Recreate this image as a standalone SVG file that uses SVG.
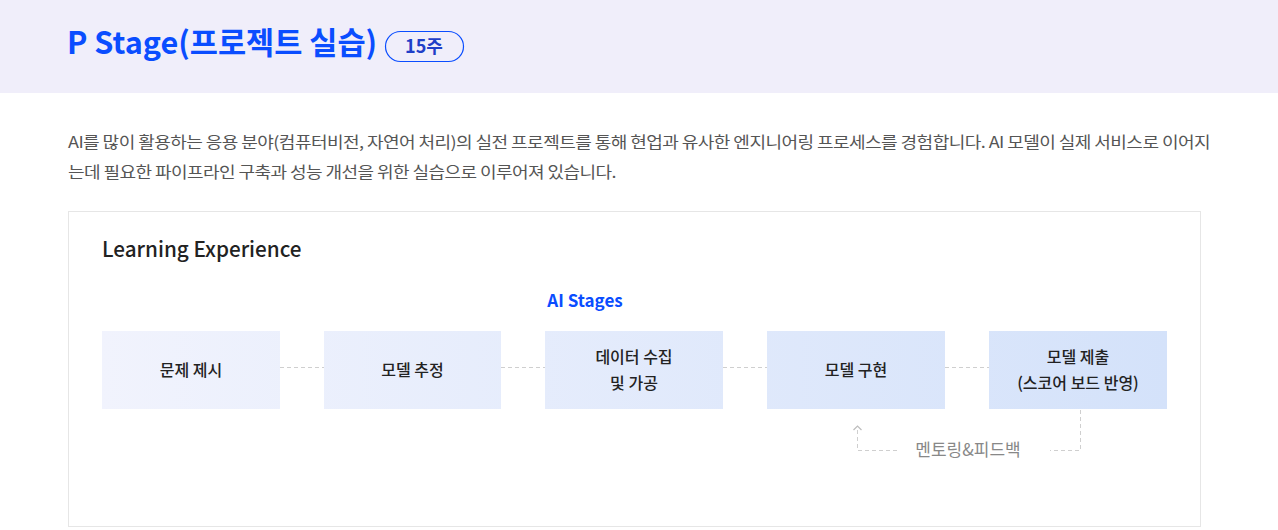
<svg xmlns="http://www.w3.org/2000/svg" width="1278" height="530" viewBox="0 0 1278 530">
<style>
text{font-family:"Noto Sans CJK KR","Noto Sans",sans-serif}
.title{font-size:30.6px;font-weight:700;fill:#0a4dff}
.badge{fill:none;stroke:#0a4dff;stroke-width:1.2}
.badgetxt{font-size:18px;font-weight:700;fill:#1f3fc8}
.para{font-size:16px;fill:#555;letter-spacing:-0.5px}
.h2{font-size:20.7px;font-weight:500;fill:#222}
.stage{font-size:17px;font-weight:700;fill:#0a4dff}
.box{fill:url(#bg)}
.lbl{font-size:16px;font-weight:500;fill:#222}
.dash{stroke:#cfcfcf;stroke-width:1;stroke-dasharray:4 3;fill:none}
.fb{font-size:17px;fill:#888}
</style>
<defs>
<linearGradient id="bg" gradientUnits="userSpaceOnUse" x1="102" y1="0" x2="1167" y2="0">
<stop offset="0" stop-color="#f1f3fd"/>
<stop offset="1" stop-color="#d4e2fa"/>
</linearGradient>
<marker id="arr" viewBox="0 0 10 10" refX="8" refY="5" markerWidth="10" markerHeight="10" markerUnits="userSpaceOnUse" orient="auto">
<path d="M4,1 L8,5 L4,9" fill="none" stroke="#bdbdbd" stroke-width="1.2"/>
</marker>
</defs>
<rect x="0" y="0" width="1278" height="530" fill="#ffffff"/>
<rect x="0" y="0" width="1278" height="93" fill="#f0eefa"/>
<text class="title" x="67" y="54">P Stage(프로젝트 실습)</text>
<rect class="badge" x="385.5" y="31.5" width="78" height="30" rx="15"/>
<text class="badgetxt" x="424" y="53" text-anchor="middle">15주</text>
<text class="para" x="68" y="148" textLength="1142" lengthAdjust="spacingAndGlyphs">AI를 많이 활용하는 응용 분야(컴퓨터비전, 자연어 처리)의 실전 프로젝트를 통해 현업과 유사한 엔지니어링 프로세스를 경험합니다. AI 모델이 실제 서비스로 이어지</text>
<text class="para" x="68" y="178" textLength="548" lengthAdjust="spacingAndGlyphs">는데 필요한 파이프라인 구축과 성능 개선을 위한 실습으로 이루어져 있습니다.</text>
<rect x="68.5" y="211.5" width="1132" height="315" fill="#fff" stroke="#e6e6e6"/>
<text class="h2" x="102" y="257">Learning Experience</text>
<text class="stage" x="585" y="307" text-anchor="middle">AI Stages</text>
<g id="connectors">
<line class="dash" x1="280" y1="367.5" x2="324" y2="367.5"/>
<line class="dash" x1="501" y1="367.5" x2="545" y2="367.5"/>
<line class="dash" x1="723" y1="367.5" x2="767" y2="367.5"/>
<line class="dash" x1="945" y1="367.5" x2="989" y2="367.5"/>
<polyline class="dash" points="1080.5,410 1080.5,450.5 1050,450.5"/>
<polyline class="dash" points="897,450.5 857.5,450.5 857.5,426" marker-end="url(#arr)"/>
<text class="fb" x="968" y="456" text-anchor="middle">멘토링&amp;피드백</text>
</g>
<g id="n1"><rect class="box" x="102" y="331" width="178" height="78"/><text class="lbl" x="191" y="376" text-anchor="middle">문제 제시</text></g>
<g id="n2"><rect class="box" x="324" y="331" width="177" height="78"/><text class="lbl" x="412.5" y="376" text-anchor="middle">모델 추정</text></g>
<g id="n3"><rect class="box" x="545" y="331" width="178" height="78"/><text class="lbl" x="634" y="363" text-anchor="middle">데이터 수집</text><text class="lbl" x="634" y="389" text-anchor="middle">및 가공</text></g>
<g id="n4"><rect class="box" x="767" y="331" width="178" height="78"/><text class="lbl" x="856" y="376" text-anchor="middle">모델 구현</text></g>
<g id="n5"><rect class="box" x="989" y="331" width="178" height="78"/><text class="lbl" x="1078" y="363" text-anchor="middle">모델 제출</text><text class="lbl" x="1078" y="389" text-anchor="middle">(스코어 보드 반영)</text></g>
</svg>
